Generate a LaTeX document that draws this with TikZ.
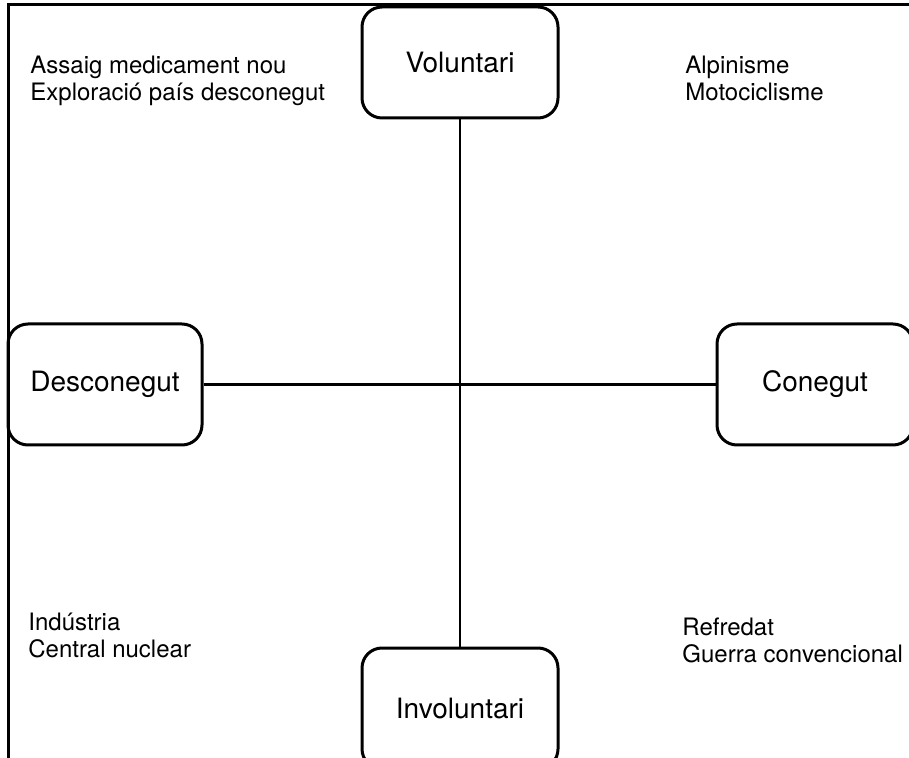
\documentclass[tikz,border=0pt]{standalone}
\usepackage{fontspec}
\setmainfont{TeX Gyre Heros}
\usepackage{tikz}

\begin{document}
\begin{tikzpicture}[x=0.5pt,y=-0.5pt,
        box/.style = {draw, line width=1.5pt, rounded corners=10pt, minimum width=98pt, minimum height=60.5pt, font=\fontsize{14}{16}\selectfont},
        txt/.style = {anchor=north west, inner sep=0pt, align=left, font=\fontsize{12}{13.5}\selectfont},
        axis/.style = {line width=1.3pt}]
        \useasboundingbox (0,0) rectangle (909,758);
        \draw[line width=1.5pt] (8,758) -- (8,5) -- (909,5);
        \node[box, minimum height=55.5pt] (vol) at (460,62.5) {Voluntari};
        \node[box] (invol) at (460,708.5) {Involuntari};
        \node[box, minimum width=97pt] (desc) at (105,384.5) {Desconegut};
        \node[box] (con) at (815,384.5) {Conegut};
        \draw[axis] (vol) -- (invol);
        \draw[axis] (desc) -- (con);
        \node[txt] (tl) at (30,56) {Assaig medicament nou\\Exploració país desconegut};
        \node[txt] (tr) at (685,56) {Alpinisme\\Motociclisme};
        \node[txt] (bl) at (28,613) {Indústria\\Central nuclear};
        \node[txt] (br) at (682,618) {Refredat\\Guerra convencional};
        \end{tikzpicture}
\end{document}
